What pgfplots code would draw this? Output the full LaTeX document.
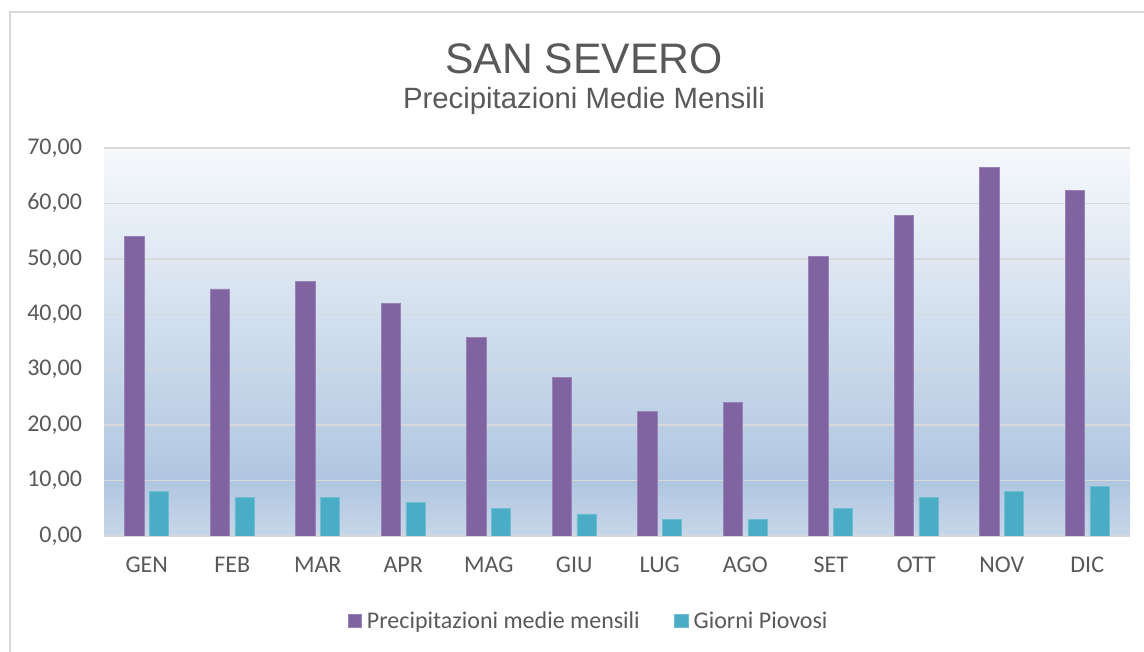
\documentclass[border=0pt]{standalone}
\usepackage{fontspec}
\setmainfont{Carlito}
\newfontfamily\titlefont{Liberation Sans}
\usepackage{pgfplots}
\pgfplotsset{compat=1.18}
\definecolor{txtgray}{RGB}{89,89,89}
\definecolor{gridgray}{RGB}{217,217,217}
\definecolor{cpurple}{RGB}{128,100,162}
\definecolor{cteal}{RGB}{75,172,198}
\definecolor{bgA}{RGB}{200,215,234}
\definecolor{bgB}{RGB}{176,198,224}
\definecolor{bgC}{RGB}{246,249,252}
\pgfdeclareverticalshading{bgshade}{100bp}{color(0bp)=(bgA); color(25bp)=(bgA); color(32bp)=(bgB); color(75bp)=(bgC); color(100bp)=(bgC)}
\begin{document}
\begin{tikzpicture}
\clip (0,0) rectangle (858pt,489pt);
\fill[white] (0,0) rectangle (858pt,489pt);
\draw[gridgray, line width=1.2pt] (7.5pt,-20pt) -- (7.5pt,480pt) -- (900pt,480pt);
\node[font=\titlefont\fontsize{32}{36}\selectfont, text=txtgray] at (438pt,445pt) {SAN SEVERO};
\node[font=\titlefont\fontsize{22}{24}\selectfont, text=txtgray] at (438pt,413pt) {Precipitazioni Medie Mensili};
\begin{axis}[
  at={(78pt,87pt)}, anchor=south west,
  scale only axis, width=769.5pt, height=291pt,
  xmin=-0.5, xmax=11.5, ymin=0, ymax=70,
  ytick={0,10,...,70},
  xtick={0,...,11},
  xticklabels={GEN,FEB,MAR,APR,MAG,GIU,LUG,AGO,SET,OTT,NOV,DIC},
  ybar, bar width=14.6pt,
  axis x line*=bottom, axis y line*=left,
  y axis line style={draw=none},
  x axis line style={draw=gridgray, line width=1.1pt},
  major tick length=0pt,
  ymajorgrids, major grid style={draw=gridgray, line width=1.1pt},
  axis background/.style={shading=bgshade},
  tick label style={font=\fontsize{18}{22}\selectfont, text=txtgray},
  yticklabel style={xshift=-13pt},
  xticklabel style={yshift=-17pt, text height=0.7em, text depth=0.2em},
  /pgf/number format/.cd, fixed, fixed zerofill, precision=2, use comma, assume math mode=true,
  /pgfplots/.cd,
  legend style={at={(0.4727,-0.219)}, anchor=center, draw=none, fill=none,
    legend columns=2, font=\fontsize{18}{22}\selectfont, text=txtgray,
    /tikz/every even column/.append style={column sep=24pt}},
  legend image code/.code={\fill[#1] (0pt,-4.9pt) rectangle (9.8pt,4.9pt); \path (12pt,0);},
]
\addplot[fill=cpurple, draw=cpurple!80!white, line width=0.4pt, bar shift=-9.2pt] coordinates {
(0,54.1) (1,44.6) (2,45.9) (3,41.9) (4,35.9) (5,28.6) (6,22.5) (7,24.1) (8,50.4) (9,57.9) (10,66.5) (11,62.3)};
\addplot[fill=cteal, draw=cteal!80!white, line width=0.4pt, bar shift=9.2pt] coordinates {
(0,8) (1,7) (2,7) (3,6) (4,5) (5,4) (6,3) (7,3) (8,5) (9,7) (10,8) (11,9)};
\legend{Precipitazioni medie mensili, Giorni Piovosi}
\end{axis}
\end{tikzpicture}
\end{document}
